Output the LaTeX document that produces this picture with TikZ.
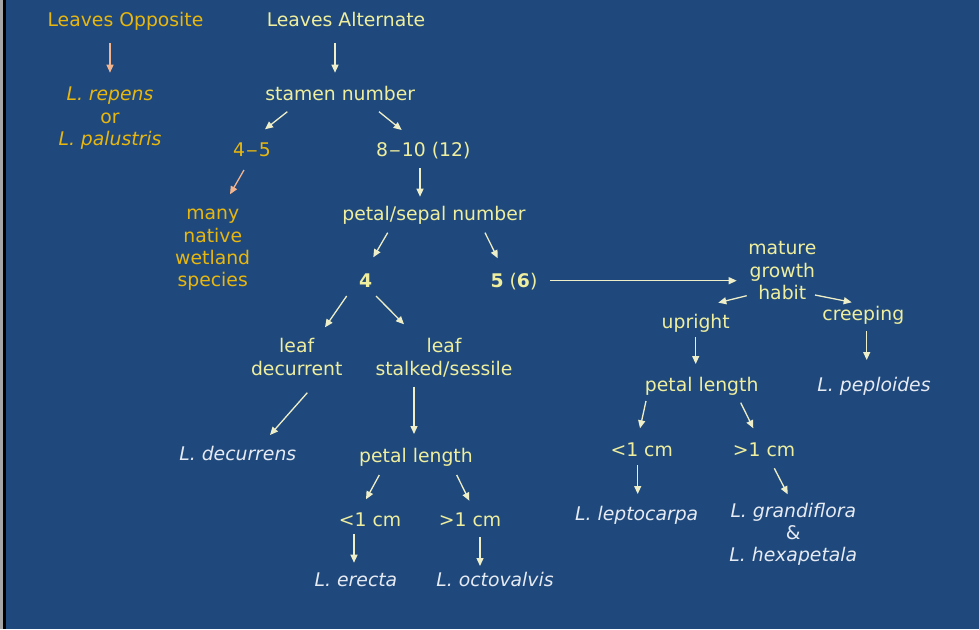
\documentclass[tikz,border=0pt]{standalone}
\usepackage{fontspec}
\setmainfont{DejaVu Sans}
\usetikzlibrary{arrows.meta}
\definecolor{bg}{RGB}{31,73,124}
\definecolor{gold}{RGB}{232,183,15}
\definecolor{pale}{RGB}{238,238,158}
\definecolor{spc}{RGB}{230,234,242}
\definecolor{arpale}{RGB}{238,238,200}
\definecolor{arsalmon}{RGB}{242,180,142}
\newcommand{\ndash}{\kern1pt\scalebox{1.25}[1]{–}\kern1pt}
\tikzset{
  txt/.style={anchor=base, inner sep=0pt, align=center, font=\fontsize{18.8}{22.3}\selectfont},
  gtxt/.style={txt, text=gold},
  ptxt/.style={txt, text=pale},
  stxt/.style={txt, text=spc, font=\fontsize{18.8}{22.3}\selectfont\itshape},
  arr/.style={draw=arpale, line width=1.3pt, -{Triangle[length=8pt,width=7pt]}},
  sarr/.style={arr, draw=arsalmon},
}
\begin{document}
\begin{tikzpicture}[x=1pt,y=-1pt]
\fill[bg] (0,0) rectangle (979,629);
\fill[gray!70] (0,0) rectangle (3,629);
\fill[black] (3,0) rectangle (6,629);
\useasboundingbox (0,0) rectangle (979,629);

% nodes (multi-line nodes are placed by the baseline of their last line)
\node[gtxt] (opp) at (125.5,27) {Leaves Opposite};
\node[gtxt] (rep) at (110,145.3) {\itshape L. repens\\or\\\itshape L. palustris};
\node[ptxt] (alt) at (346,27) {Leaves Alternate};
\node[ptxt] (stamen) at (340.3,100) {stamen number};
\node[gtxt] (f45) at (252,156.7) {4\ndash 5};
\node[ptxt] (f810) at (423.3,156.7) {8\ndash 10 (12)};
\node[gtxt] (many) at (212.7,286.7) {many\\native\\wetland\\species};
\node[ptxt] (petal1) at (434,220) {petal/sepal number};
\node[ptxt] (four) at (365.7,287.3) {\bfseries 4};
\node[ptxt] (five) at (514,287) {\textbf{5} (\textbf{6})};
\node[ptxt] (mature) at (782.3,299.3) {mature\\growth\\habit};
\node[ptxt] (upright) at (695.7,328.3) {upright};
\node[ptxt] (creeping) at (863.3,320.7) {creeping};
\node[ptxt] (petal2) at (701.7,391.7) {petal length};
\node[stxt] (peploides) at (874,391.7) {L. peploides};
\node[ptxt] (leafdec) at (296.7,375) {leaf\\decurrent};
\node[ptxt] (leafstalk) at (444,375) {leaf\\stalked/sessile};
\node[stxt] (decurrens) at (237.8,460) {L. decurrens};
\node[ptxt] (petal3) at (416,462.7) {petal length};
\node[ptxt] (lt1) at (370,526.7) {<1 cm};
\node[ptxt] (gt1) at (470,526.7) {>1 cm};
\node[stxt] (erecta) at (356,586) {L. erecta};
\node[stxt] (octo) at (495,586) {L. octovalvis};
\node[ptxt] (lt2) at (641.7,456) {<1 cm};
\node[ptxt] (gt2) at (764,456) {>1 cm};
\node[stxt] (lepto) at (636.7,520.7) {L. leptocarpa};
\node[stxt] (grand) at (793.3,561.7) {L. grandiflora\\\upshape\&\\L. hexapetala};

% connectors
\draw[sarr] ([shift={(-15.5,16)}]opp.base) -- ([shift={(0,-72.6)}]rep.base);
\draw[arr] ([shift={(-11,16)}]alt.base) -- ([shift={(-5.3,-27.3)}]stamen.base);
\draw[arr] ([shift={(-53,11.7)}]stamen.base) -- ([shift={(13,-27.4)}]f45.base);
\draw[arr] ([shift={(38.7,11.7)}]stamen.base) -- ([shift={(-21.6,-26.7)}]f810.base);
\draw[sarr] ([shift={(-8,13.3)}]f45.base) -- ([shift={(17.3,-92.4)}]many.base);
\draw[arr] ([shift={(-3.3,11.6)}]f810.base) -- ([shift={(-14,-23.3)}]petal1.base);
\draw[arr] ([shift={(-46.3,12.7)}]petal1.base) -- ([shift={(7.6,-30)}]four.base);
\draw[arr] ([shift={(51,12.7)}]petal1.base) -- ([shift={(-16.3,-28.7)}]five.base);
\draw[arr] ([shift={(36,-6.3)}]five.base) -- ([shift={(-45.6,-18.6)}]mature.base);
\draw[arr] ([shift={(-35.6,-3.6)}]mature.base) -- ([shift={(22.6,-25.6)}]upright.base);
\draw[arr] ([shift={(32.7,-4.3)}]mature.base) -- ([shift={(-11.6,-18.4)}]creeping.base);
\draw[arr] ([shift={(0,9)}]upright.base) -- ([shift={(-6,-27.7)}]petal2.base);
\draw[arr] ([shift={(3.4,10.3)}]creeping.base) -- ([shift={(-7.3,-31.7)}]peploides.base);
\draw[arr] ([shift={(-19,8.7)}]four.base) -- ([shift={(28.3,-47.7)}]leafdec.base);
\draw[arr] ([shift={(10.3,8.7)}]four.base) -- ([shift={(-40,-50.7)}]leafstalk.base);
\draw[arr] ([shift={(10.6,17.7)}]leafdec.base) -- ([shift={(32.2,-25)}]decurrens.base);
\draw[arr] ([shift={(-30,11.7)}]leafstalk.base) -- ([shift={(-2,-28.7)}]petal3.base);
\draw[arr] ([shift={(-36.7,12.3)}]petal3.base) -- ([shift={(-4,-27.4)}]lt1.base);
\draw[arr] ([shift={(40.7,12.3)}]petal3.base) -- ([shift={(-0.7,-26)}]gt1.base);
\draw[arr] ([shift={(-16,7.6)}]lt1.base) -- ([shift={(-2,-23.3)}]erecta.base);
\draw[arr] ([shift={(10,10.6)}]gt1.base) -- ([shift={(-15,-20)}]octo.base);
\draw[arr] ([shift={(-55.7,9.3)}]petal2.base) -- ([shift={(-1.7,-27.7)}]lt2.base);
\draw[arr] ([shift={(39,11)}]petal2.base) -- ([shift={(-10.7,-27.7)}]gt2.base);
\draw[arr] ([shift={(-4,9)}]lt2.base) -- ([shift={(1,-26.7)}]lepto.base);
\draw[arr] ([shift={(10.3,12.3)}]gt2.base) -- ([shift={(-5.6,-67.4)}]grand.base);
\end{tikzpicture}
\end{document}
